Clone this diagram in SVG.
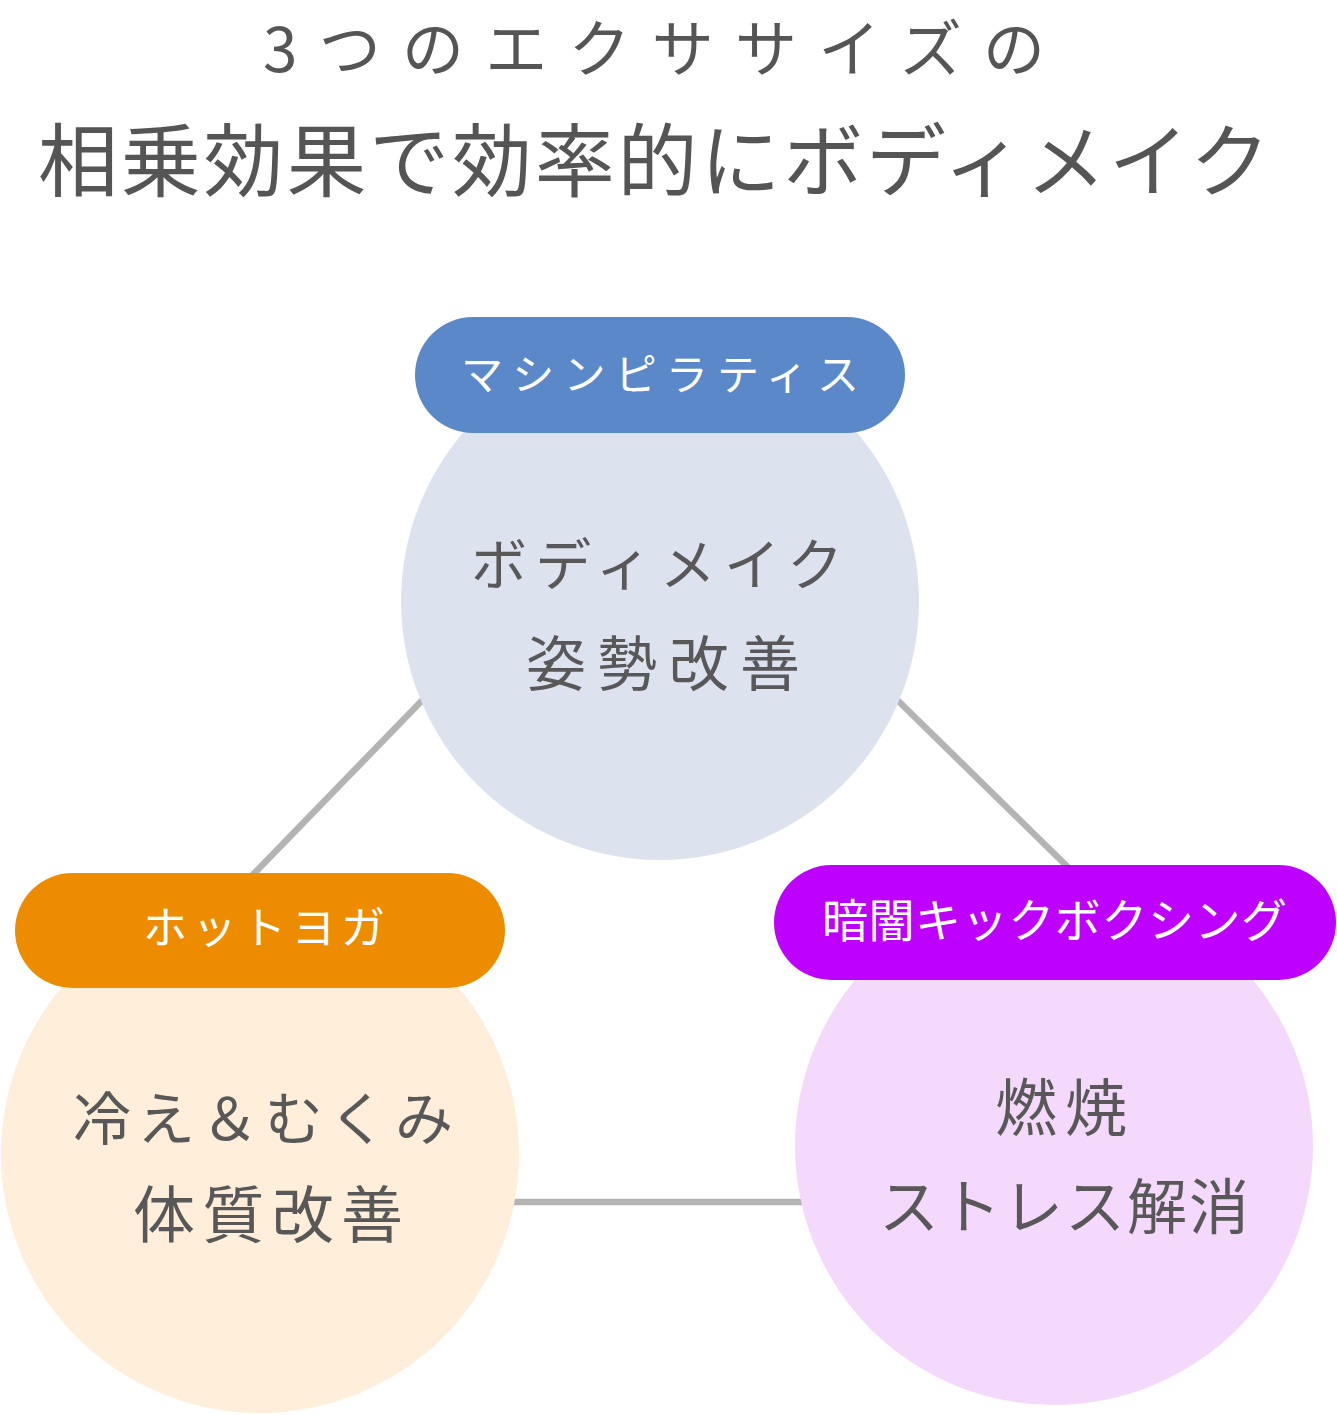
<svg xmlns="http://www.w3.org/2000/svg" width="1337" height="1415" viewBox="0 0 1337 1415">
<style>
text{font-family:"Noto Sans CJK JP","Noto Sans CJK SC",sans-serif;}
.title{fill:#555555;}
.body{fill:#585858;}
.pill{fill:#ffffff;}
.conn{stroke:#b4b4b4;stroke-width:6.5;fill:none;}
</style>
<rect width="1337" height="1415" fill="#ffffff"/>
<g id="title">
<text class="title" x="263" y="72" font-size="62" textLength="782" lengthAdjust="spacing">3つのエクササイズの</text>
<text class="title" x="38" y="190" font-size="80" textLength="1232" lengthAdjust="spacing">相乗効果で効率的にボディメイク</text>
</g>
<g id="connectors">
<line class="conn" x1="440" y1="682" x2="240" y2="888"/>
<line class="conn" x1="880" y1="683" x2="1080" y2="879"/>
<line class="conn" x1="505" y1="1202" x2="810" y2="1202"/>
</g>
<g id="node-machine-pilates">
<circle cx="660" cy="601" r="259" fill="#dce3ef"/>
<rect x="415" y="317" width="490" height="116" rx="58" fill="#5a88c8"/>
<text class="pill" x="461" y="390" font-size="42" textLength="398" lengthAdjust="spacing">マシンピラティス</text>
<text class="body" x="471" y="585" font-size="56" textLength="372" lengthAdjust="spacing">ボディメイク</text>
<text class="body" x="526" y="686" font-size="60" textLength="274" lengthAdjust="spacing">姿勢改善</text>
</g>
<g id="node-hot-yoga">
<circle cx="260" cy="1154" r="259" fill="#feeeda"/>
<rect x="15" y="873" width="490" height="115" rx="57.5" fill="#ee8c00"/>
<text class="pill" x="143" y="944" font-size="44" textLength="242" lengthAdjust="spacing">ホットヨガ</text>
<text class="body" x="73" y="1140" font-size="58" textLength="380" lengthAdjust="spacing">冷え＆むくみ</text>
<text class="body" x="133" y="1238" font-size="62" textLength="270" lengthAdjust="spacing">体質改善</text>
</g>
<g id="node-kickboxing">
<circle cx="1054" cy="1146" r="259" fill="#f4d9fd"/>
<rect x="774" y="865" width="562" height="115" rx="57.5" fill="#be00fe"/>
<text class="pill" x="822" y="937" font-size="46" textLength="465" lengthAdjust="spacing">暗闇キックボクシング</text>
<text class="body" x="995" y="1131" font-size="62" textLength="132" lengthAdjust="spacing">燃焼</text>
<text class="body" x="879" y="1229" font-size="60" textLength="370" lengthAdjust="spacing">ストレス解消</text>
</g>
</svg>
